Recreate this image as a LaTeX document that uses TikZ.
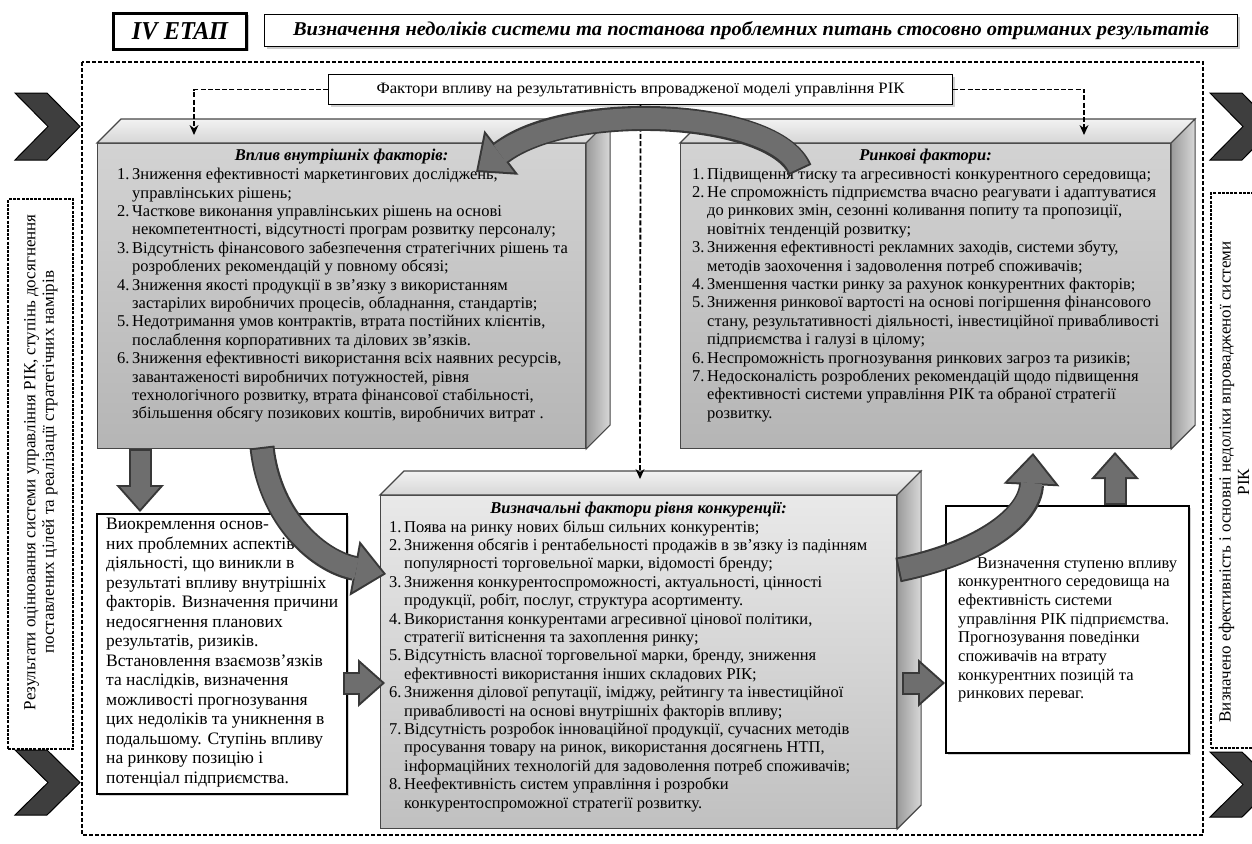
\documentclass[tikz,border=0pt]{standalone}
\usepackage{graphicx}
\usepackage{fontspec}
\setmainfont{Liberation Serif}
\usetikzlibrary{calc,arrows.meta,shadows}
\definecolor{arrfill}{HTML}{6E6E6E}
\definecolor{arrline}{HTML}{383838}
\definecolor{chevfill}{HTML}{3E3E3E}
\definecolor{faceline}{HTML}{474747}
\definecolor{topA}{HTML}{D3D3D3}
\definecolor{botA}{HTML}{B5B5B5}
\definecolor{topC}{HTML}{E9E9E9}
\definecolor{botC}{HTML}{C0C0C0}
\definecolor{roofT}{HTML}{F2F2F2}
\definecolor{roofB}{HTML}{D6D6D6}
\definecolor{sideL}{HTML}{9A9A9A}
\definecolor{sideR}{HTML}{D8D8D8}
\newcommand\nm[1]{\makebox[15pt][l]{#1}}
\newcommand\ct{\hspace*{15pt}}
\begin{document}
\begin{tikzpicture}[x=1pt,y=-1pt,
  bodyfont/.style={font=\fontsize{16.5}{18.4}\selectfont},
  listtxt/.style={bodyfont,align=left,inner sep=0pt,anchor=north west},
  boxtitle/.style={font=\fontsize{16.5}{18.4}\selectfont\bfseries\itshape,inner sep=0pt},
  frontAB/.style={draw=faceline,line width=1.1pt,inner sep=0pt,anchor=north west,top color=topA,bottom color=botA},
  frontC/.style={draw=faceline,line width=1.1pt,inner sep=0pt,anchor=north west,top color=topC,bottom color=botC},
  roof/.style={draw=faceline,line width=1.1pt,top color=roofT,bottom color=roofB},
  sideface/.style={draw=faceline,line width=1.1pt,left color=sideL,right color=sideR},
  plainbox/.style={draw=black,line width=1.6pt,fill=white,inner sep=0pt,anchor=north west,drop shadow={shadow xshift=2pt,shadow yshift=-2pt,fill=black!35}},
  vbox/.style={draw=black,line width=2.4pt,dash pattern=on 3pt off 1.2pt,fill=white,inner sep=0pt,anchor=north west},
  vtext/.style={rotate=90,align=center,font=\fontsize{17}{18.5}\selectfont,inner sep=0pt},
  dconn/.style={line width=1.8pt,dash pattern=on 5pt off 2.2pt,-{Stealth[length=10pt,width=9pt,line width=0pt]}},
  bigout/.style={line width=25pt,draw=arrline,-{Triangle[width=56pt,length=32pt,line width=0pt]}},
  bigin/.style={line width=21pt,draw=arrfill,shorten >=3pt,shorten <=2pt,-{Triangle[width=47pt,length=27pt,line width=0pt]}},
  smallout/.style={line width=23pt,draw=arrline,-{Triangle[width=48pt,length=27pt,line width=0pt]}},
  smallin/.style={line width=19pt,draw=arrfill,shorten >=3pt,shorten <=2pt,-{Triangle[width=39pt,length=22pt,line width=0pt]}},
  chevron/.style={fill=chevfill,draw=black,line width=1pt,line join=miter},
]
\fill[white] (0,0) rectangle (1252,843);
\useasboundingbox (0,0) rectangle (1252,843);
\clip (0,0) rectangle (1252,843);

% outer dashed frame
\draw[line width=1.6pt,dash pattern=on 4pt off 2pt] (82,62) rectangle (1203,835);

% chevrons
\draw[chevron] (15,93) -- (47,93) -- (80,126.5) -- (47,160) -- (15,160) -- (48,126.5) -- cycle;
\draw[chevron] (15,750) -- (47,750) -- (80,782.5) -- (47,815) -- (15,815) -- (48,782.5) -- cycle;
\draw[chevron] (1210,93) -- (1242,93) -- (1275,126.5) -- (1242,160) -- (1210,160) -- (1243,126.5) -- cycle;
\draw[chevron] (1210,752) -- (1242,752) -- (1275,784.5) -- (1242,817) -- (1210,817) -- (1243,784.5) -- cycle;

% side vertical boxes
\node[vbox,minimum width=65pt,minimum height=550pt] (F) at (7,198) {};
\node[vtext] (Ft) at ($(F.center)+(0,-12)$) {Результати оцінювання системи управління РІК, ступінь досягнення\\поставлених цілей та реалізації стратегічних намірів};
\node[vbox,minimum width=80pt,minimum height=555pt] (G) at (1210,192) {};
\node[vtext] (Gt) at (1234,482) {Визначено ефективність і основні недоліки впровадженої системи\\РІК};

% header
\node[draw,line width=3pt,minimum width=133pt,minimum height=36pt,anchor=north west,inner sep=0pt,fill=white,
  drop shadow={shadow xshift=2pt,shadow yshift=-2pt,fill=black!40}] (stage) at (112,12)
  {\resizebox{96pt}{17pt}{\bfseries\itshape IV ЕТАП}};
\node[draw,line width=1.2pt,minimum width=973pt,minimum height=32pt,anchor=north west,inner sep=0pt,fill=white,
  drop shadow={shadow xshift=2pt,shadow yshift=-2pt,fill=black!40}] (ttl) at (264,14)
  {\resizebox{916pt}{14pt}{\bfseries\itshape Визначення недоліків системи та постанова проблемних питань стосовно отриманих результатів}};

% factors box
\node[draw,line width=1.1pt,minimum width=624pt,minimum height=30pt,anchor=north west,inner sep=0pt,fill=white,
  drop shadow={shadow xshift=2pt,shadow yshift=-2pt,fill=black!35}] (P) at (328,74)
  {\resizebox{528pt}{10.5pt}{Фактори впливу на результативність впровадженої моделі управління РІК}};

% 3D box A
\node[frontAB,minimum width=488pt,minimum height=305pt] (A) at (97,143) {};
\draw[roof] (A.north west) -- ++(24,-24) -- ($(A.north east)+(24,-24)$) -- (A.north east) -- cycle;
\draw[sideface] (A.north east) -- ++(24,-24) -- ($(A.south east)+(24,-24)$) -- (A.south east) -- cycle;
\node[boxtitle] (At) at ($(A.north)+(0,14)$) {Вплив внутрішніх факторів:};
\node[listtxt] (Al) at (117,168) {\nm{1.}Зниження ефективності маркетингових досліджень,\\
\ct управлінських рішень;\\
\nm{2.}Часткове виконання управлінських рішень на основі\\
\ct некомпетентності, відсутності програм розвитку персоналу;\\
\nm{3.}Відсутність фінансового забезпечення стратегічних рішень та\\
\ct розроблених рекомендацій у повному обсязі;\\
\nm{4.}Зниження якості продукції в зв’язку з використанням\\
\ct застарілих виробничих процесів, обладнання, стандартів;\\
\nm{5.}Недотримання умов контрактів, втрата постійних клієнтів,\\
\ct послаблення корпоративних та ділових зв’язків.\\
\nm{6.}Зниження ефективності використання  всіх наявних ресурсів,\\
\ct завантаженості виробничих потужностей, рівня\\
\ct технологічного розвитку, втрата фінансової стабільності,\\
\ct збільшення обсягу позикових коштів, виробничих витрат .};

% 3D box B
\node[frontAB,minimum width=490pt,minimum height=305pt] (B) at (680,143) {};
\draw[roof] (B.north west) -- ++(24,-24) -- ($(B.north east)+(24,-24)$) -- (B.north east) -- cycle;
\draw[sideface] (B.north east) -- ++(24,-24) -- ($(B.south east)+(24,-24)$) -- (B.south east) -- cycle;
\node[boxtitle] (Bt) at ($(B.north)+(0,14)$) {Ринкові фактори:};
\node[listtxt] (Bl) at (692,168) {\nm{1.}Підвищення тиску та агресивності конкурентного середовища;\\
\nm{2.}Не спроможність підприємства вчасно реагувати і адаптуватися\\
\ct до ринкових змін, сезонні коливання попиту та пропозиції,\\
\ct новітніх тенденцій розвитку;\\
\nm{3.}Зниження ефективності рекламних заходів, системи збуту,\\
\ct методів заохочення і задоволення потреб споживачів;\\
\nm{4.}Зменшення частки ринку за рахунок конкурентних факторів;\\
\nm{5.}Зниження ринкової вартості на основі погіршення фінансового\\
\ct стану, результативності діяльності, інвестиційної привабливості\\
\ct підприємства і галузі в цілому;\\
\nm{6.}Неспроможність прогнозування ринкових загроз та ризиків;\\
\nm{7.}Недосконалість розроблених рекомендацій щодо підвищення\\
\ct ефективності системи управління РІК та обраної стратегії\\
\ct розвитку.};

% 3D box C
\node[frontC,minimum width=516pt,minimum height=333pt] (C) at (380,495) {};
\draw[roof] (C.north west) -- ++(24,-24) -- ($(C.north east)+(24,-24)$) -- (C.north east) -- cycle;
\draw[sideface] (C.north east) -- ++(24,-24) -- ($(C.south east)+(24,-24)$) -- (C.south east) -- cycle;
\node[boxtitle] (Ct) at ($(C.north)+(0,15)$) {Визначальні фактори рівня конкуренції:};
\node[listtxt] (Cl) at (389,520) {\nm{1.}Поява на ринку нових більш сильних конкурентів;\\
\nm{2.}Зниження обсягів і рентабельності продажів в зв’язку із падінням\\
\ct популярності торговельної марки, відомості бренду;\\
\nm{3.}Зниження конкурентоспроможності, актуальності, цінності\\
\ct продукції, робіт, послуг, структура асортименту.\\
\nm{4.}Використання конкурентами агресивної цінової політики,\\
\ct стратегії витіснення та захоплення ринку;\\
\nm{5.}Відсутність власної торговельної марки, бренду, зниження\\
\ct ефективності використання інших складових РІК;\\
\nm{6.}Зниження ділової репутації, іміджу, рейтингу та інвестиційної\\
\ct привабливості на основі внутрішніх факторів впливу;\\
\nm{7.}Відсутність розробок інноваційної продукції, сучасних методів\\
\ct просування товару на ринок, використання досягнень НТП,\\
\ct інформаційних технологій для задоволення потреб споживачів;\\
\nm{8.}Неефективність систем управління і розробки\\
\ct конкурентоспроможної стратегії розвитку.};

% plain boxes D and E
\node[plainbox,minimum width=250pt,minimum height=280pt] (D) at (96,513) {};
\node[align=left,inner sep=0pt,anchor=north west,font=\fontsize{17.5}{19.5}\selectfont] (Dt) at (106,518) {Виокремлення основ-\\
них проблемних аспектів\\
діяльності, що виникли в\\
результаті впливу внутрішніх\\
факторів. Визначення причини\\
недосягнення планових\\
результатів, ризиків.\\
Встановлення взаємозв’язків\\
та наслідків, визначення\\
можливості прогнозування\\
цих недоліків та уникнення в\\
подальшому. Ступінь впливу\\
на  ринкову позицію і\\
потенціал підприємства.};
\node[plainbox,minimum width=243pt,minimum height=247pt] (E) at (945,505) {};
\node[align=left,inner sep=0pt,anchor=north west,font=\fontsize{16.5}{18.7}\selectfont] (Et) at (958,557) {\hspace*{19pt}Визначення ступеню впливу\\
конкурентного середовища на\\
ефективність системи\\
управління РІК підприємства.\\
Прогнозування поведінки\\
споживачів на втрату\\
конкурентних позицій та\\
ринкових переваг.};

% dashed connectors
\coordinate (aL) at (194,135);
\coordinate (aR) at (1084,135);
\coordinate (cT) at (640,479);
\draw[dconn] (P.west) -| (aL);
\draw[dconn] (P.east) -| (aR);
\draw[dconn] (P.south) -- (cT);

% curved arrows
\coordinate (t1) at (800,170); \coordinate (h1) at (476,172);
\draw[bigout] (t1) .. controls (775,110) and (570,100) .. (h1);
\draw[bigin]  (t1) .. controls (775,110) and (570,100) .. (h1);
\coordinate (t2) at (262,447); \coordinate (h2) at (386,574);
\draw[bigout] (t2) .. controls (270,520) and (320,562) .. (h2);
\draw[bigin]  (t2) .. controls (270,520) and (320,562) .. (h2);
\coordinate (t3) at (898,570); \coordinate (h3) at (1033,453);
\draw[bigout] (t3) .. controls (985,552) and (1030,515) .. (h3);
\draw[bigin]  (t3) .. controls (985,552) and (1030,515) .. (h3);

% straight block arrows
\coordinate (s1a) at (140,449); \coordinate (s1b) at (140,512);
\draw[smallout] (s1a) -- (s1b); \draw[smallin] (s1a) -- (s1b);
\coordinate (s2a) at (343,683); \coordinate (s2b) at (385,683);
\draw[smallout] (s2a) -- (s2b); \draw[smallin] (s2a) -- (s2b);
\coordinate (s3a) at (902,683); \coordinate (s3b) at (945,683);
\draw[smallout] (s3a) -- (s3b); \draw[smallin] (s3a) -- (s3b);
\coordinate (s4a) at (1115,505); \coordinate (s4b) at (1115,452);
\draw[smallout] (s4a) -- (s4b); \draw[smallin] (s4a) -- (s4b);
\end{tikzpicture}
\end{document}
